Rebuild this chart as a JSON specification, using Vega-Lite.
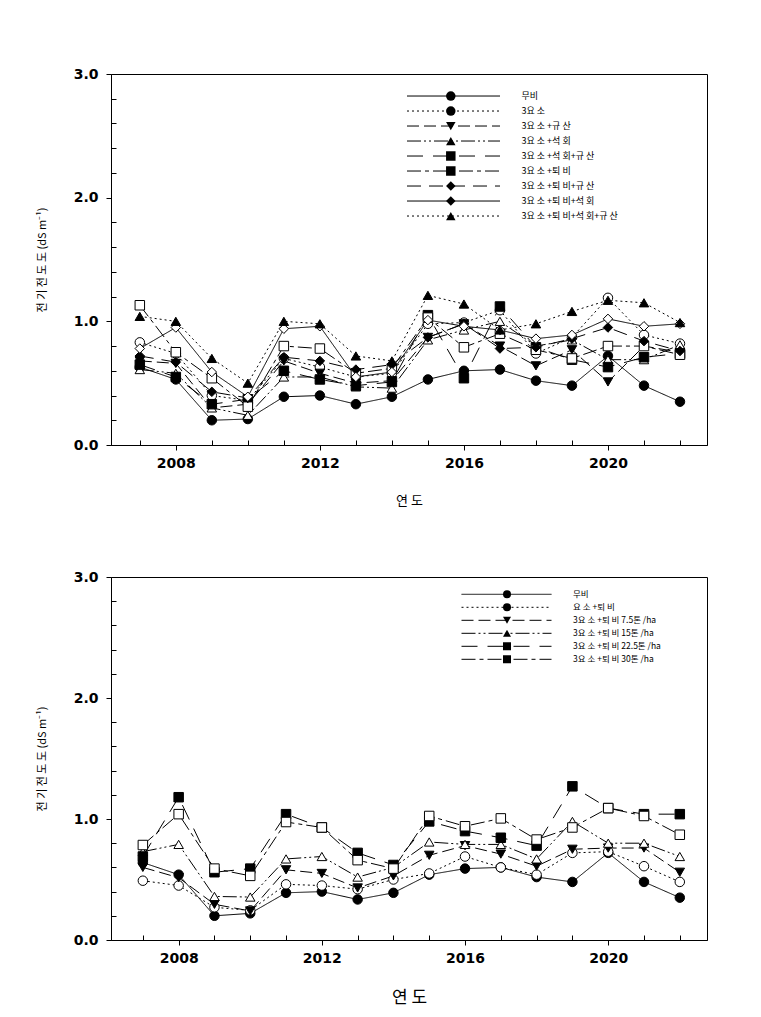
{
"$schema":"https://vega.github.io/schema/vega-lite/v6.json",
"padding":{"left":35,"top":66,"right":10,"bottom":5},
"background":"white",
"spacing":61,
"resolve":{"scale":{"strokeDash":"independent","shape":"independent","fill":"independent"},"legend":{"strokeDash":"independent","shape":"independent","fill":"independent"}},
"config":{"view":{"stroke":"black","strokeWidth":1},"axis":{"grid":false,"domainColor":"black","tickColor":"black","labelColor":"black","titleColor":"black"},"font":"DejaVu Sans"},
"datasets":{
"top":[
{"year":2007,"series":"무비","value":0.63},{"year":2008,"series":"무비","value":0.53},{"year":2009,"series":"무비","value":0.20},{"year":2010,"series":"무비","value":0.21},{"year":2011,"series":"무비","value":0.39},{"year":2012,"series":"무비","value":0.40},{"year":2013,"series":"무비","value":0.33},{"year":2014,"series":"무비","value":0.39},{"year":2015,"series":"무비","value":0.53},{"year":2016,"series":"무비","value":0.60},{"year":2017,"series":"무비","value":0.61},{"year":2018,"series":"무비","value":0.52},{"year":2019,"series":"무비","value":0.48},{"year":2020,"series":"무비","value":0.72},{"year":2021,"series":"무비","value":0.48},{"year":2022,"series":"무비","value":0.35},
{"year":2007,"series":"3요 소","value":0.83},{"year":2008,"series":"3요 소","value":0.74},{"year":2009,"series":"3요 소","value":0.40},{"year":2010,"series":"3요 소","value":0.36},{"year":2011,"series":"3요 소","value":0.70},{"year":2012,"series":"3요 소","value":0.63},{"year":2013,"series":"3요 소","value":0.55},{"year":2014,"series":"3요 소","value":0.58},{"year":2015,"series":"3요 소","value":0.98},{"year":2016,"series":"3요 소","value":0.99},{"year":2017,"series":"3요 소","value":1.09},{"year":2018,"series":"3요 소","value":0.74},{"year":2019,"series":"3요 소","value":0.87},{"year":2020,"series":"3요 소","value":1.19},{"year":2021,"series":"3요 소","value":0.89},{"year":2022,"series":"3요 소","value":0.82},
{"year":2007,"series":"3요 소 +규 산","value":0.68},{"year":2008,"series":"3요 소 +규 산","value":0.66},{"year":2009,"series":"3요 소 +규 산","value":0.30},{"year":2010,"series":"3요 소 +규 산","value":0.33},{"year":2011,"series":"3요 소 +규 산","value":0.68},{"year":2012,"series":"3요 소 +규 산","value":0.58},{"year":2013,"series":"3요 소 +규 산","value":0.50},{"year":2014,"series":"3요 소 +규 산","value":0.52},{"year":2015,"series":"3요 소 +규 산","value":0.87},{"year":2016,"series":"3요 소 +규 산","value":0.98},{"year":2017,"series":"3요 소 +규 산","value":0.80},{"year":2018,"series":"3요 소 +규 산","value":0.64},{"year":2019,"series":"3요 소 +규 산","value":0.77},{"year":2020,"series":"3요 소 +규 산","value":0.51},{"year":2021,"series":"3요 소 +규 산","value":0.80},{"year":2022,"series":"3요 소 +규 산","value":0.75},
{"year":2007,"series":"3요 소 +석 회","value":0.61},{"year":2008,"series":"3요 소 +석 회","value":0.58},{"year":2009,"series":"3요 소 +석 회","value":0.30},{"year":2010,"series":"3요 소 +석 회","value":0.24},{"year":2011,"series":"3요 소 +석 회","value":0.55},{"year":2012,"series":"3요 소 +석 회","value":0.55},{"year":2013,"series":"3요 소 +석 회","value":0.47},{"year":2014,"series":"3요 소 +석 회","value":0.46},{"year":2015,"series":"3요 소 +석 회","value":0.85},{"year":2016,"series":"3요 소 +석 회","value":0.93},{"year":2017,"series":"3요 소 +석 회","value":1.00},{"year":2018,"series":"3요 소 +석 회","value":0.80},{"year":2019,"series":"3요 소 +석 회","value":0.85},{"year":2020,"series":"3요 소 +석 회","value":0.69},{"year":2021,"series":"3요 소 +석 회","value":0.69},{"year":2022,"series":"3요 소 +석 회","value":0.81},
{"year":2007,"series":"3요 소 +석 회+규 산","value":0.65},{"year":2008,"series":"3요 소 +석 회+규 산","value":0.55},{"year":2009,"series":"3요 소 +석 회+규 산","value":0.33},{"year":2010,"series":"3요 소 +석 회+규 산","value":0.37},{"year":2011,"series":"3요 소 +석 회+규 산","value":0.60},{"year":2012,"series":"3요 소 +석 회+규 산","value":0.53},{"year":2013,"series":"3요 소 +석 회+규 산","value":0.48},{"year":2014,"series":"3요 소 +석 회+규 산","value":0.51},{"year":2015,"series":"3요 소 +석 회+규 산","value":1.05},{"year":2016,"series":"3요 소 +석 회+규 산","value":0.54},{"year":2017,"series":"3요 소 +석 회+규 산","value":1.12},{"year":2018,"series":"3요 소 +석 회+규 산","value":0.79},{"year":2019,"series":"3요 소 +석 회+규 산","value":0.69},{"year":2020,"series":"3요 소 +석 회+규 산","value":0.63},{"year":2021,"series":"3요 소 +석 회+규 산","value":0.71},{"year":2022,"series":"3요 소 +석 회+규 산","value":0.74},
{"year":2007,"series":"3요 소 +퇴 비","value":1.13},{"year":2008,"series":"3요 소 +퇴 비","value":0.75},{"year":2009,"series":"3요 소 +퇴 비","value":0.54},{"year":2010,"series":"3요 소 +퇴 비","value":0.31},{"year":2011,"series":"3요 소 +퇴 비","value":0.80},{"year":2012,"series":"3요 소 +퇴 비","value":0.78},{"year":2013,"series":"3요 소 +퇴 비","value":0.58},{"year":2014,"series":"3요 소 +퇴 비","value":0.62},{"year":2015,"series":"3요 소 +퇴 비","value":1.03},{"year":2016,"series":"3요 소 +퇴 비","value":0.79},{"year":2017,"series":"3요 소 +퇴 비","value":0.90},{"year":2018,"series":"3요 소 +퇴 비","value":0.77},{"year":2019,"series":"3요 소 +퇴 비","value":0.70},{"year":2020,"series":"3요 소 +퇴 비","value":0.80},{"year":2021,"series":"3요 소 +퇴 비","value":0.80},{"year":2022,"series":"3요 소 +퇴 비","value":0.73},
{"year":2007,"series":"3요 소 +퇴 비+규 산","value":0.72},{"year":2008,"series":"3요 소 +퇴 비+규 산","value":0.67},{"year":2009,"series":"3요 소 +퇴 비+규 산","value":0.43},{"year":2010,"series":"3요 소 +퇴 비+규 산","value":0.38},{"year":2011,"series":"3요 소 +퇴 비+규 산","value":0.71},{"year":2012,"series":"3요 소 +퇴 비+규 산","value":0.68},{"year":2013,"series":"3요 소 +퇴 비+규 산","value":0.61},{"year":2014,"series":"3요 소 +퇴 비+규 산","value":0.65},{"year":2015,"series":"3요 소 +퇴 비+규 산","value":0.87},{"year":2016,"series":"3요 소 +퇴 비+규 산","value":0.98},{"year":2017,"series":"3요 소 +퇴 비+규 산","value":0.78},{"year":2018,"series":"3요 소 +퇴 비+규 산","value":0.79},{"year":2019,"series":"3요 소 +퇴 비+규 산","value":0.86},{"year":2020,"series":"3요 소 +퇴 비+규 산","value":0.95},{"year":2021,"series":"3요 소 +퇴 비+규 산","value":0.84},{"year":2022,"series":"3요 소 +퇴 비+규 산","value":0.76},
{"year":2007,"series":"3요 소 +퇴 비+석 회","value":0.78},{"year":2008,"series":"3요 소 +퇴 비+석 회","value":0.95},{"year":2009,"series":"3요 소 +퇴 비+석 회","value":0.59},{"year":2010,"series":"3요 소 +퇴 비+석 회","value":0.39},{"year":2011,"series":"3요 소 +퇴 비+석 회","value":0.94},{"year":2012,"series":"3요 소 +퇴 비+석 회","value":0.96},{"year":2013,"series":"3요 소 +퇴 비+석 회","value":0.55},{"year":2014,"series":"3요 소 +퇴 비+석 회","value":0.59},{"year":2015,"series":"3요 소 +퇴 비+석 회","value":1.01},{"year":2016,"series":"3요 소 +퇴 비+석 회","value":0.96},{"year":2017,"series":"3요 소 +퇴 비+석 회","value":0.93},{"year":2018,"series":"3요 소 +퇴 비+석 회","value":0.86},{"year":2019,"series":"3요 소 +퇴 비+석 회","value":0.89},{"year":2020,"series":"3요 소 +퇴 비+석 회","value":1.02},{"year":2021,"series":"3요 소 +퇴 비+석 회","value":0.96},{"year":2022,"series":"3요 소 +퇴 비+석 회","value":0.98},
{"year":2007,"series":"3요 소 +퇴 비+석 회+규 산","value":1.04},{"year":2008,"series":"3요 소 +퇴 비+석 회+규 산","value":1.00},{"year":2009,"series":"3요 소 +퇴 비+석 회+규 산","value":0.70},{"year":2010,"series":"3요 소 +퇴 비+석 회+규 산","value":0.50},{"year":2011,"series":"3요 소 +퇴 비+석 회+규 산","value":1.00},{"year":2012,"series":"3요 소 +퇴 비+석 회+규 산","value":0.98},{"year":2013,"series":"3요 소 +퇴 비+석 회+규 산","value":0.72},{"year":2014,"series":"3요 소 +퇴 비+석 회+규 산","value":0.68},{"year":2015,"series":"3요 소 +퇴 비+석 회+규 산","value":1.21},{"year":2016,"series":"3요 소 +퇴 비+석 회+규 산","value":1.14},{"year":2017,"series":"3요 소 +퇴 비+석 회+규 산","value":0.93},{"year":2018,"series":"3요 소 +퇴 비+석 회+규 산","value":0.98},{"year":2019,"series":"3요 소 +퇴 비+석 회+규 산","value":1.08},{"year":2020,"series":"3요 소 +퇴 비+석 회+규 산","value":1.17},{"year":2021,"series":"3요 소 +퇴 비+석 회+규 산","value":1.15},{"year":2022,"series":"3요 소 +퇴 비+석 회+규 산","value":0.99}
],
"bottom":[
{"year":2007,"series":"무비","value":0.64},{"year":2008,"series":"무비","value":0.54},{"year":2009,"series":"무비","value":0.20},{"year":2010,"series":"무비","value":0.22},{"year":2011,"series":"무비","value":0.39},{"year":2012,"series":"무비","value":0.40},{"year":2013,"series":"무비","value":0.335},{"year":2014,"series":"무비","value":0.39},{"year":2015,"series":"무비","value":0.54},{"year":2016,"series":"무비","value":0.59},{"year":2017,"series":"무비","value":0.60},{"year":2018,"series":"무비","value":0.52},{"year":2019,"series":"무비","value":0.48},{"year":2020,"series":"무비","value":0.72},{"year":2021,"series":"무비","value":0.48},{"year":2022,"series":"무비","value":0.35},
{"year":2007,"series":"요 소 +퇴 비","value":0.49},{"year":2008,"series":"요 소 +퇴 비","value":0.45},{"year":2009,"series":"요 소 +퇴 비","value":0.27},{"year":2010,"series":"요 소 +퇴 비","value":0.245},{"year":2011,"series":"요 소 +퇴 비","value":0.46},{"year":2012,"series":"요 소 +퇴 비","value":0.45},{"year":2013,"series":"요 소 +퇴 비","value":0.42},{"year":2014,"series":"요 소 +퇴 비","value":0.50},{"year":2015,"series":"요 소 +퇴 비","value":0.55},{"year":2016,"series":"요 소 +퇴 비","value":0.69},{"year":2017,"series":"요 소 +퇴 비","value":0.60},{"year":2018,"series":"요 소 +퇴 비","value":0.54},{"year":2019,"series":"요 소 +퇴 비","value":0.72},{"year":2020,"series":"요 소 +퇴 비","value":0.73},{"year":2021,"series":"요 소 +퇴 비","value":0.61},{"year":2022,"series":"요 소 +퇴 비","value":0.48},
{"year":2007,"series":"3요 소 +퇴 비 7.5톤 /ha","value":0.60},{"year":2008,"series":"3요 소 +퇴 비 7.5톤 /ha","value":0.515},{"year":2009,"series":"3요 소 +퇴 비 7.5톤 /ha","value":0.295},{"year":2010,"series":"3요 소 +퇴 비 7.5톤 /ha","value":0.24},{"year":2011,"series":"3요 소 +퇴 비 7.5톤 /ha","value":0.58},{"year":2012,"series":"3요 소 +퇴 비 7.5톤 /ha","value":0.55},{"year":2013,"series":"3요 소 +퇴 비 7.5톤 /ha","value":0.43},{"year":2014,"series":"3요 소 +퇴 비 7.5톤 /ha","value":0.53},{"year":2015,"series":"3요 소 +퇴 비 7.5톤 /ha","value":0.70},{"year":2016,"series":"3요 소 +퇴 비 7.5톤 /ha","value":0.78},{"year":2017,"series":"3요 소 +퇴 비 7.5톤 /ha","value":0.71},{"year":2018,"series":"3요 소 +퇴 비 7.5톤 /ha","value":0.61},{"year":2019,"series":"3요 소 +퇴 비 7.5톤 /ha","value":0.75},{"year":2020,"series":"3요 소 +퇴 비 7.5톤 /ha","value":0.76},{"year":2021,"series":"3요 소 +퇴 비 7.5톤 /ha","value":0.76},{"year":2022,"series":"3요 소 +퇴 비 7.5톤 /ha","value":0.56},
{"year":2007,"series":"3요 소 +퇴 비 15톤 /ha","value":0.73},{"year":2008,"series":"3요 소 +퇴 비 15톤 /ha","value":0.79},{"year":2009,"series":"3요 소 +퇴 비 15톤 /ha","value":0.36},{"year":2010,"series":"3요 소 +퇴 비 15톤 /ha","value":0.355},{"year":2011,"series":"3요 소 +퇴 비 15톤 /ha","value":0.67},{"year":2012,"series":"3요 소 +퇴 비 15톤 /ha","value":0.69},{"year":2013,"series":"3요 소 +퇴 비 15톤 /ha","value":0.52},{"year":2014,"series":"3요 소 +퇴 비 15톤 /ha","value":0.60},{"year":2015,"series":"3요 소 +퇴 비 15톤 /ha","value":0.81},{"year":2016,"series":"3요 소 +퇴 비 15톤 /ha","value":0.79},{"year":2017,"series":"3요 소 +퇴 비 15톤 /ha","value":0.79},{"year":2018,"series":"3요 소 +퇴 비 15톤 /ha","value":0.67},{"year":2019,"series":"3요 소 +퇴 비 15톤 /ha","value":0.98},{"year":2020,"series":"3요 소 +퇴 비 15톤 /ha","value":0.80},{"year":2021,"series":"3요 소 +퇴 비 15톤 /ha","value":0.80},{"year":2022,"series":"3요 소 +퇴 비 15톤 /ha","value":0.69},
{"year":2007,"series":"3요 소 +퇴 비 22.5톤 /ha","value":0.69},{"year":2008,"series":"3요 소 +퇴 비 22.5톤 /ha","value":1.18},{"year":2009,"series":"3요 소 +퇴 비 22.5톤 /ha","value":0.56},{"year":2010,"series":"3요 소 +퇴 비 22.5톤 /ha","value":0.59},{"year":2011,"series":"3요 소 +퇴 비 22.5톤 /ha","value":1.04},{"year":2012,"series":"3요 소 +퇴 비 22.5톤 /ha","value":0.93},{"year":2013,"series":"3요 소 +퇴 비 22.5톤 /ha","value":0.72},{"year":2014,"series":"3요 소 +퇴 비 22.5톤 /ha","value":0.62},{"year":2015,"series":"3요 소 +퇴 비 22.5톤 /ha","value":0.98},{"year":2016,"series":"3요 소 +퇴 비 22.5톤 /ha","value":0.90},{"year":2017,"series":"3요 소 +퇴 비 22.5톤 /ha","value":0.845},{"year":2018,"series":"3요 소 +퇴 비 22.5톤 /ha","value":0.78},{"year":2019,"series":"3요 소 +퇴 비 22.5톤 /ha","value":1.27},{"year":2020,"series":"3요 소 +퇴 비 22.5톤 /ha","value":1.09},{"year":2021,"series":"3요 소 +퇴 비 22.5톤 /ha","value":1.04},{"year":2022,"series":"3요 소 +퇴 비 22.5톤 /ha","value":1.04},
{"year":2007,"series":"3요 소 +퇴 비 30톤 /ha","value":0.785},{"year":2008,"series":"3요 소 +퇴 비 30톤 /ha","value":1.04},{"year":2009,"series":"3요 소 +퇴 비 30톤 /ha","value":0.59},{"year":2010,"series":"3요 소 +퇴 비 30톤 /ha","value":0.53},{"year":2011,"series":"3요 소 +퇴 비 30톤 /ha","value":0.975},{"year":2012,"series":"3요 소 +퇴 비 30톤 /ha","value":0.93},{"year":2013,"series":"3요 소 +퇴 비 30톤 /ha","value":0.66},{"year":2014,"series":"3요 소 +퇴 비 30톤 /ha","value":0.59},{"year":2015,"series":"3요 소 +퇴 비 30톤 /ha","value":1.025},{"year":2016,"series":"3요 소 +퇴 비 30톤 /ha","value":0.94},{"year":2017,"series":"3요 소 +퇴 비 30톤 /ha","value":1.005},{"year":2018,"series":"3요 소 +퇴 비 30톤 /ha","value":0.83},{"year":2019,"series":"3요 소 +퇴 비 30톤 /ha","value":0.93},{"year":2020,"series":"3요 소 +퇴 비 30톤 /ha","value":1.09},{"year":2021,"series":"3요 소 +퇴 비 30톤 /ha","value":1.025},{"year":2022,"series":"3요 소 +퇴 비 30톤 /ha","value":0.87}
]
},
"vconcat":[
{
"width":596,"height":371,
"data":{"name":"top"},
"layer":[
{"mark":{"type":"line","color":"black","strokeWidth":1},
"encoding":{
"x":{"field":"year","type":"quantitative","scale":{"domain":[2006.2,2022.75],"nice":false,"zero":false},
"axis":{"orient":"bottom","values":[2008,2012,2016,2020],"format":"d","labelFont":"DejaVu Sans","labelFontWeight":"bold","labelFontSize":14,"labelPadding":6,"tickSize":5,"title":"연 도","titleFont":"Noto Sans CJK KR","titleFontWeight":"normal","titleFontSize":13,"titlePadding":24}},
"y":{"field":"value","type":"quantitative","scale":{"domain":[0,3],"nice":false,"zero":true},
"axis":{"orient":"left","values":[0,1,2,3],"format":".1f","labelFont":"DejaVu Sans","labelFontWeight":"bold","labelFontSize":14,"labelPadding":8,"tickSize":5,"title":"전 기 전 도 도 (dS m⁻¹)","titleFont":"Noto Sans CJK KR","titleFontWeight":"normal","titleFontSize":11,"titlePadding":26}},
"strokeDash":{"field":"series","type":"nominal","scale":{"domain":["무비","3요 소","3요 소 +규 산","3요 소 +석 회","3요 소 +석 회+규 산","3요 소 +퇴 비","3요 소 +퇴 비+규 산","3요 소 +퇴 비+석 회","3요 소 +퇴 비+석 회+규 산"],"range":[[1,0],[2,3],[12,5],[14,3,2,3,2,3],[16,10],[14,4,4,4],[14,8],[1,0],[2,3]]},
"legend":{"orient":"none","legendX":295.5,"legendY":14.7,"title":null,"symbolType":"stroke","symbolSize":8649,"symbolStrokeWidth":1,"symbolStrokeColor":"black","clipHeight":14.66,"rowPadding":0,"padding":0,"labelFont":"Noto Sans CJK KR","labelFontSize":9,"labelColor":"black","labelOffset":21}}
}},
{"mark":{"type":"point","filled":true,"stroke":"black","strokeWidth":1,"size":90,"opacity":1},
"encoding":{
"x":{"field":"year","type":"quantitative","axis":{"orient":"bottom","values":[2007,2009,2010,2011,2013,2014,2015,2017,2018,2019,2021,2022],"labels":false,"domain":false,"tickSize":-5,"title":null}},
"y":{"field":"value","type":"quantitative","axis":{"orient":"left","values":[0.2,0.4,0.6,0.8,1.2,1.4,1.6,1.8,2.2,2.4,2.6,2.8],"labels":false,"domain":false,"tickSize":-5,"title":null}},
"shape":{"field":"series","type":"nominal","sort":["무비","3요 소","3요 소 +규 산","3요 소 +석 회","3요 소 +석 회+규 산","3요 소 +퇴 비","3요 소 +퇴 비+규 산","3요 소 +퇴 비+석 회","3요 소 +퇴 비+석 회+규 산"],"scale":{"range":["circle","circle","triangle-down","triangle-up","square","square","diamond","diamond","triangle-up"]},
"legend":{"orient":"none","legendX":334.3,"legendY":14.7,"title":null,"labelExpr":"''","clipHeight":14.66,"rowPadding":0,"padding":0,"symbolSize":90,"symbolStrokeColor":"black","symbolStrokeWidth":1,"symbolOpacity":1,
"encode":{"symbols":{"fill":{"condition":{"test":"indexof(['무비','3요 소 +규 산','3요 소 +석 회+규 산','3요 소 +퇴 비+규 산','3요 소 +퇴 비+석 회+규 산'], datum.value) >= 0","value":"black"},"value":"white"},"stroke":{"value":"black"},"opacity":{"value":1}}}}},
"fill":{"field":"series","type":"nominal","sort":["무비","3요 소","3요 소 +규 산","3요 소 +석 회","3요 소 +석 회+규 산","3요 소 +퇴 비","3요 소 +퇴 비+규 산","3요 소 +퇴 비+석 회","3요 소 +퇴 비+석 회+규 산"],"scale":{"range":["black","white","black","white","black","white","black","white","black"]},"legend":null}
}}
],
"resolve":{"axis":{"x":"independent","y":"independent"}}
},
{
"width":596,"height":363,
"data":{"name":"bottom"},
"layer":[
{"mark":{"type":"line","color":"black","strokeWidth":1},
"encoding":{
"x":{"field":"year","type":"quantitative","scale":{"domain":[2006.11,2022.76],"nice":false,"zero":false},
"axis":{"orient":"bottom","values":[2008,2012,2016,2020],"format":"d","labelFont":"DejaVu Sans","labelFontWeight":"bold","labelFontSize":14,"labelPadding":6,"tickSize":5,"title":"연 도","titleFont":"Noto Sans CJK KR","titleFontWeight":"normal","titleFontSize":17,"titlePadding":24}},
"y":{"field":"value","type":"quantitative","scale":{"domain":[0,3],"nice":false,"zero":true},
"axis":{"orient":"left","values":[0,1,2,3],"format":".1f","labelFont":"DejaVu Sans","labelFontWeight":"bold","labelFontSize":14,"labelPadding":8,"tickSize":5,"title":"전 기 전 도 도 (dS m⁻¹)","titleFont":"Noto Sans CJK KR","titleFontWeight":"normal","titleFontSize":11,"titlePadding":26}},
"strokeDash":{"field":"series","type":"nominal","scale":{"domain":["무비","요 소 +퇴 비","3요 소 +퇴 비 7.5톤 /ha","3요 소 +퇴 비 15톤 /ha","3요 소 +퇴 비 22.5톤 /ha","3요 소 +퇴 비 30톤 /ha"],"range":[[1,0],[2,3],[12,5],[14,3,2,3,2,3],[16,10],[14,4,4,4]]},
"legend":{"orient":"none","legendX":350,"legendY":10.8,"title":null,"symbolType":"stroke","symbolSize":8100,"symbolStrokeWidth":1,"symbolStrokeColor":"black","clipHeight":13,"rowPadding":0,"padding":0,"labelFont":"Noto Sans CJK KR","labelFontSize":8.5,"labelColor":"black","labelOffset":21}}
}},
{"mark":{"type":"point","filled":true,"stroke":"black","strokeWidth":1,"size":90,"opacity":1},
"encoding":{
"x":{"field":"year","type":"quantitative","axis":{"orient":"bottom","values":[2007,2009,2010,2011,2013,2014,2015,2017,2018,2019,2021,2022],"labels":false,"domain":false,"tickSize":-5,"title":null}},
"y":{"field":"value","type":"quantitative","axis":{"orient":"left","values":[0.2,0.4,0.6,0.8,1.2,1.4,1.6,1.8,2.2,2.4,2.6,2.8],"labels":false,"domain":false,"tickSize":-5,"title":null}},
"shape":{"field":"series","type":"nominal","sort":["무비","요 소 +퇴 비","3요 소 +퇴 비 7.5톤 /ha","3요 소 +퇴 비 15톤 /ha","3요 소 +퇴 비 22.5톤 /ha","3요 소 +퇴 비 30톤 /ha"],"scale":{"range":["circle","circle","triangle-down","triangle-up","square","square"]},
"legend":{"orient":"none","legendX":391,"legendY":10.8,"title":null,"labelExpr":"''","clipHeight":13,"rowPadding":0,"padding":0,"symbolSize":64,"symbolStrokeColor":"black","symbolStrokeWidth":1,"symbolOpacity":1,
"encode":{"symbols":{"fill":{"condition":{"test":"indexof(['무비','3요 소 +퇴 비 7.5톤 /ha','3요 소 +퇴 비 22.5톤 /ha'], datum.value) >= 0","value":"black"},"value":"white"},"stroke":{"value":"black"},"opacity":{"value":1}}}}},
"fill":{"field":"series","type":"nominal","sort":["무비","요 소 +퇴 비","3요 소 +퇴 비 7.5톤 /ha","3요 소 +퇴 비 15톤 /ha","3요 소 +퇴 비 22.5톤 /ha","3요 소 +퇴 비 30톤 /ha"],"scale":{"range":["black","white","black","white","black","white"]},"legend":null}
}}
],
"resolve":{"axis":{"x":"independent","y":"independent"}}
}
]
}
